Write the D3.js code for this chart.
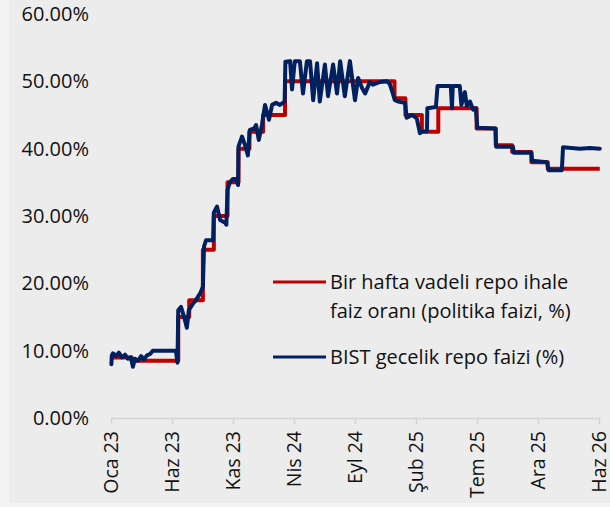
<!DOCTYPE html>
<html>
<head>
<meta charset="utf-8">
<script src="https://cdn.jsdelivr.net/npm/d3@7"></script>
<style>
  body { margin: 0; background: #f4f4f4; }
  text { font-family: "Open Sans", "Noto Sans", sans-serif; fill: #111; }
</style>
</head>
<body>
<div id="viz"></div>
<script>
var width = 610,
    height = 507;

var kirmizi = '#c00000',
    lacivert = '#002060';

// tick labels (every 156 days from 1 Jan 2023)
var tickDates = ['2023-01-01', '2023-06-06', '2023-11-09', '2024-04-13', '2024-09-16',
                 '2025-02-19', '2025-07-25', '2025-12-28', '2026-06-02'];
var tickLabels = ['Oca 23', 'Haz 23', 'Kas 23', 'Nis 24', 'Eyl 24', 'Şub 25', 'Tem 25', 'Ara 25', 'Haz 26'];
var yTicks = [0, 10, 20, 30, 40, 50, 60];

// politika faizi (step)
var politikaTarih = ['2023-01-01', '2023-02-23', '2023-06-22', '2023-07-20', '2023-08-24', '2023-09-21',
                     '2023-10-26', '2023-11-23', '2023-12-21', '2024-01-25', '2024-03-21', '2024-12-26',
                     '2025-01-23', '2025-03-06', '2025-04-17', '2025-07-24', '2025-09-11', '2025-10-23',
                     '2025-12-11', '2026-01-22', '2026-06-04'];
var politikaFaiz = [9, 8.5, 15, 17.5, 25, 30, 35, 40, 42.5, 45, 50, 47.5,
                    45, 42.5, 46, 43, 40.5, 39.5, 38, 37, 37];

// BIST gecelik repo
var bistTarih = ['2023-01-02', '2023-01-03', '2023-01-06', '2023-01-14', '2023-01-21', '2023-01-29', '2023-02-06',
  '2023-02-13', '2023-02-21', '2023-02-26', '2023-03-03', '2023-03-11', '2023-03-19', '2023-03-26', '2023-04-03',
  '2023-04-11', '2023-04-18', '2023-06-16', '2023-06-20', '2023-06-22', '2023-06-29', '2023-07-07', '2023-07-14',
  '2023-07-19', '2023-07-30', '2023-08-06', '2023-08-17', '2023-08-24', '2023-08-27', '2023-09-01', '2023-09-19',
  '2023-09-21', '2023-09-29', '2023-10-07', '2023-10-20', '2023-10-23', '2023-10-26', '2023-11-01', '2023-11-09',
  '2023-11-17', '2023-11-22', '2023-11-23', '2023-12-02', '2023-12-10', '2023-12-17', '2023-12-22', '2024-01-02',
  '2024-01-07', '2024-01-14', '2024-01-22', '2024-01-25', '2024-01-30', '2024-02-09', '2024-02-17', '2024-02-27',
  '2024-03-08', '2024-03-20', '2024-03-22', '2024-04-03', '2024-04-08', '2024-04-15', '2024-04-28', '2024-05-06',
  '2024-05-16', '2024-05-24', '2024-06-01', '2024-06-11', '2024-06-18', '2024-07-01', '2024-07-09', '2024-07-22',
  '2024-08-01', '2024-08-09', '2024-08-21', '2024-09-03', '2024-09-16', '2024-09-24', '2024-10-04', '2024-10-12',
  '2024-10-24', '2024-11-01', '2024-11-19', '2024-12-07', '2024-12-14', '2024-12-19', '2024-12-27', '2025-01-04',
  '2025-01-22', '2025-01-26', '2025-02-09', '2025-02-21', '2025-03-01', '2025-03-06', '2025-03-19', '2025-03-20',
  '2025-04-11', '2025-04-15', '2025-05-19', '2025-05-22', '2025-05-24', '2025-06-11', '2025-06-15', '2025-06-24',
  '2025-06-29', '2025-07-07', '2025-07-15', '2025-07-22', '2025-07-26', '2025-09-10', '2025-09-12', '2025-10-25',
  '2025-10-27', '2025-12-11', '2025-12-13', '2026-01-20', '2026-01-24', '2026-02-27', '2026-03-02', '2026-04-14',
  '2026-05-10', '2026-06-04'];
var bistFaiz = [8.0, 9.3, 9.6, 9.2, 9.7, 9.0, 9.4,
  8.8, 9.0, 7.6, 8.8, 8.5, 9.2, 8.7, 9.3,
  9.5, 10.0, 10.0, 8.2, 16.0, 16.5, 15.0, 13.4,
  16.0, 17.0, 17.5, 18.5, 19.5, 25.5, 26.4, 26.4,
  30.5, 31.4, 29.4, 29.0, 28.7, 33.9, 35.0, 35.5,
  35.5, 34.6, 40.3, 41.8, 40.5, 39.0, 42.8, 43.0,
  43.5, 41.3, 43.5, 44.7, 46.5, 44.3, 46.5, 46.8,
  46.5, 47.0, 52.9, 53.0, 48.8, 53.0, 53.0, 48.2,
  53.0, 53.0, 47.2, 52.7, 47.0, 52.5, 47.8, 52.5,
  48.2, 53.0, 47.8, 53.0, 47.2, 50.5, 49.0, 48.2,
  49.9, 49.5, 49.9, 50.0, 49.6, 48.7, 47.2, 47.0,
  46.8, 44.6, 45.0, 44.5, 42.3, 42.5, 42.6, 46.0,
  46.2, 49.3, 49.3, 46.0, 49.3, 49.3, 46.5, 48.4,
  46.3, 47.0, 45.8, 46.0, 43.1, 43.0, 40.3, 40.3,
  39.4, 39.4, 38.2, 38.0, 36.8, 36.8, 40.2, 40.0,
  40.1, 40.0];

var legendText = [['Bir hafta vadeli repo ihale', 'faiz oranı (politika faizi, %)'], ['BIST gecelik repo faizi (%)']];

var parse = d3.timeParse('%Y-%m-%d');

var svg = d3.select('#viz')
  .append('svg')
  .attr('width', width)
  .attr('height', height);

svg.append('rect')
  .attr('x', 9)
  .attr('y', 0)
  .attr('width', width - 9)
  .attr('height', 503)
  .style('fill', '#ececec');

var x = d3.scaleTime()
  .domain([parse('2023-01-01'), parse('2026-06-02')])
  .range([111, 599]);

var y = d3.scaleLinear()
  .domain([0, 60])
  .range([418, 14]);

// eje x
var xAxis = d3.axisBottom(x)
  .tickValues(tickDates.map(parse))
  .tickFormat(function(d, i) { return tickLabels[i]; })
  .tickSize(6)
  .tickSizeOuter(0);

var gx = svg.append('g')
  .attr('transform', 'translate(0,418)')
  .call(xAxis);

gx.select('.domain').attr('stroke', '#d4d4d4').attr('stroke-width', 1.5);
gx.selectAll('.tick line').attr('stroke', '#d4d4d4').attr('stroke-width', 1.5);
gx.selectAll('.tick text')
  .attr('transform', 'rotate(-90)')
  .attr('x', -13)
  .attr('y', 0)
  .attr('dy', '0.35em')
  .style('text-anchor', 'end')
  .style('font-size', '19.5px')
  .style('fill', '#111');

// eje y
var yAxis = d3.axisLeft(y)
  .tickValues(yTicks)
  .tickFormat(function(d) { return d.toFixed(2) + '%'; })
  .tickSize(0);

var gy = svg.append('g')
  .attr('transform', 'translate(89,0)')
  .call(yAxis);

gy.select('.domain').remove();
gy.selectAll('.tick text')
  .attr('x', 0)
  .style('font-size', '20px')
  .style('fill', '#111');

// lineas
var politika = politikaTarih.map(function(d, i) { return { t: parse(d), v: politikaFaiz[i] }; });
var bist = bistTarih.map(function(d, i) { return { t: parse(d), v: bistFaiz[i] }; });

var lineaStep = d3.line()
  .x(function(d) { return x(d.t); })
  .y(function(d) { return y(d.v); })
  .curve(d3.curveStepAfter);

var linea = d3.line()
  .x(function(d) { return x(d.t); })
  .y(function(d) { return y(d.v); });

svg.append('path')
  .datum(politika)
  .attr('d', lineaStep)
  .attr('fill', 'none')
  .attr('stroke', kirmizi)
  .attr('stroke-width', 4)
  .attr('stroke-linejoin', 'round');

svg.append('path')
  .datum(bist)
  .attr('d', linea)
  .attr('fill', 'none')
  .attr('stroke', lacivert)
  .attr('stroke-width', 4)
  .attr('stroke-linejoin', 'round')
  .attr('stroke-linecap', 'round');

// leyenda
var leyenda = svg.append('g');
var colores = [kirmizi, lacivert];
var ys = [282, 357];

legendText.forEach(function(lineas, i) {
  leyenda.append('line')
    .attr('x1', 273)
    .attr('x2', 326)
    .attr('y1', ys[i])
    .attr('y2', ys[i])
    .attr('stroke', colores[i])
    .attr('stroke-width', 3);

  lineas.forEach(function(t, j) {
    leyenda.append('text')
      .attr('x', 330)
      .attr('y', ys[i] + j * 29)
      .attr('dy', '0.35em')
      .style('font-size', '20px')
      .text(t);
  });
});
</script>
</body>
</html>
